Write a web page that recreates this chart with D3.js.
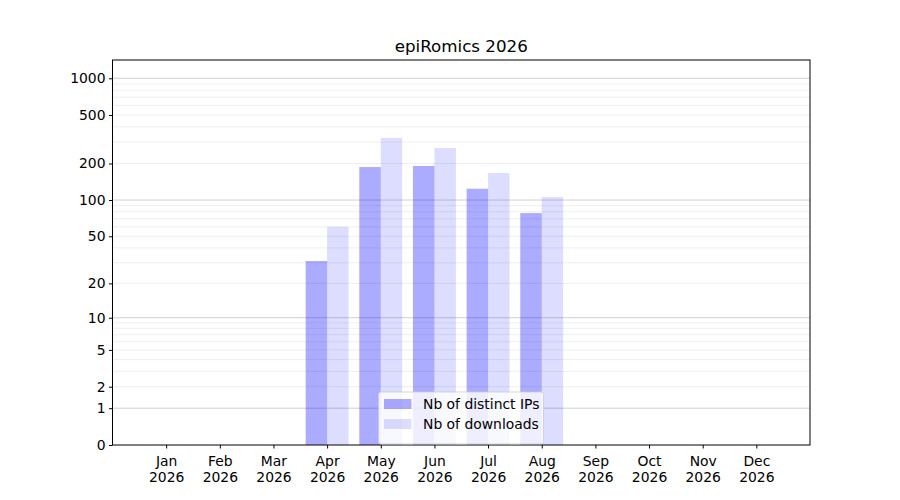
<!DOCTYPE html>
<html>
<head>
<meta charset="utf-8">
<script src="https://cdn.jsdelivr.net/npm/d3@7"></script>
<style>
  body { margin: 0; background: #fff; }
  text { font-family: "DejaVu Sans", sans-serif; fill: #000; }
</style>
</head>
<body>
<svg id="chart" width="900" height="500"></svg>
<script>
// Data
const months = ["Jan", "Feb", "Mar", "Apr", "May", "Jun", "Jul", "Aug", "Sep", "Oct", "Nov", "Dec"]
const year = "2026"
const distinctIPs = [0, 0, 0, 31, 187, 191, 124, 78, 0, 0, 0, 0]
const downloads = [0, 0, 0, 60, 325, 268, 167, 106, 0, 0, 0, 0]
const yTicks = [0, 1, 2, 5, 10, 20, 50, 100, 200, 500, 1000]
const seriesNames = ["Nb of distinct IPs", "Nb of downloads"]

const svg = d3.select("#chart")

// Axes box (matplotlib default layout)
const margin = { left: 112.5, right: 810, top: 60, bottom: 445 }

// x scale: month index, with one empty slot on each side
const x = d3.scaleLinear()
    .domain([-1, 12])
    .range([margin.left, margin.right])

// y scale: symlog with constant 1 (log10(1 + v))
const y = d3.scaleSymlog()
    .constant(1)
    .domain([0, 1412])
    .range([margin.bottom, margin.top])

// Grid lines
const minorVals = []
for (let p = 0; p <= 3; p++)
    for (let k = 2; k <= 9; k++) minorVals.push(k * Math.pow(10, p))
const majorVals = [1, 10, 100, 1000]

const gridG = svg.append("g").attr("id", "grid")
gridG.selectAll("line.minor")
    .data(minorVals.filter(v => y(v) >= margin.top))
    .enter()
    .append("line")
    .attr("class", "minor")
    .attr("x1", margin.left).attr("x2", margin.right)
    .attr("y1", d => y(d)).attr("y2", d => y(d))
    .attr("stroke", "#ebebeb")
    .attr("stroke-width", 0.8)
gridG.selectAll("line.major")
    .data(majorVals)
    .enter()
    .append("line")
    .attr("class", "major")
    .attr("x1", margin.left).attr("x2", margin.right)
    .attr("y1", d => y(d)).attr("y2", d => y(d))
    .attr("stroke", "#c4c4c4")
    .attr("stroke-width", 0.8)

// Bars
const barW = 0.4
const series = [
    { values: distinctIPs, offset: -barW, opacity: 0.33 },
    { values: downloads, offset: 0, opacity: 0.135 },
]
const barsG = svg.append("g").attr("id", "bars")
series.forEach(s => {
    barsG.append("g")
        .selectAll("rect")
        .data(s.values.map((v, i) => ({ v, i })).filter(d => d.v > 0))
        .enter()
        .append("rect")
        .attr("x", d => x(d.i + s.offset))
        .attr("width", x(barW) - x(0))
        .attr("y", d => y(d.v))
        .attr("height", d => y(0) - y(d.v))
        .attr("fill", "blue")
        .attr("fill-opacity", s.opacity)
})

// Frame
svg.append("rect")
    .attr("x", margin.left).attr("y", margin.top)
    .attr("width", margin.right - margin.left)
    .attr("height", margin.bottom - margin.top)
    .attr("fill", "none")
    .attr("stroke", "#000")
    .attr("stroke-width", 1)

// y axis
const yAxis = d3.axisLeft(y)
    .tickValues(yTicks)
    .tickFormat(d3.format("d"))
    .tickSize(3.5)
    .tickPadding(3.5)
const yG = svg.append("g")
    .attr("transform", `translate(${margin.left},0)`)
    .call(yAxis)
yG.select(".domain").remove()
yG.selectAll("text").style("font-size", "13.9px").style("font-family", "DejaVu Sans")

// x axis with two-line labels
const xAxis = d3.axisBottom(x)
    .tickValues(d3.range(12))
    .tickFormat("")
    .tickSize(3.5)
const xG = svg.append("g")
    .attr("transform", `translate(0,${margin.bottom})`)
    .call(xAxis)
xG.select(".domain").remove()
xG.selectAll(".tick").each(function (d) {
    const t = d3.select(this).append("text")
        .attr("text-anchor", "middle")
        .style("font-size", "13.9px")
        .style("font-family", "DejaVu Sans")
        .attr("fill", "#000")
    t.append("tspan").attr("x", 0).attr("y", 21).text(months[d])
    t.append("tspan").attr("x", 0).attr("y", 37).text(year)
})

// Title
svg.append("text")
    .attr("x", (margin.left + margin.right) / 2)
    .attr("y", 52)
    .attr("text-anchor", "middle")
    .style("font-size", "16.7px")
    .text("epiRomics 2026")

// Legend (lower center)
const legend = svg.append("g").attr("id", "legend")
legend.append("rect")
    .attr("x", 378.5).attr("y", 392)
    .attr("width", 165).attr("height", 52)
    .attr("rx", 2.5)
    .attr("fill", "#fff")
    .attr("fill-opacity", 0.8)
    .attr("stroke", "#cccccc")
    .attr("stroke-opacity", 0.8)
    .attr("stroke-width", 1)
seriesNames.forEach((name, i) => {
    const cy = 404 + i * 20
    legend.append("rect")
        .attr("x", 384).attr("y", cy - 5)
        .attr("width", 27.5).attr("height", 10)
        .attr("fill", "blue")
        .attr("fill-opacity", series[i].opacity)
    legend.append("text")
        .attr("x", 423).attr("y", cy + 5)
        .style("font-size", "13.9px")
        .text(name)
})
</script>
</body>
</html>
